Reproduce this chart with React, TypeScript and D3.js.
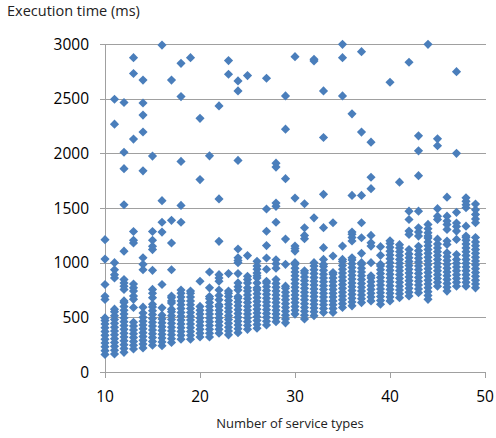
import React from "react";
import * as d3 from "d3";

const serviceTypes: number[] = [
  10, 11, 12, 13, 14, 15, 16, 17, 18, 19, 20, 21, 22, 23, 24, 25, 26, 27, 28, 29,
  30, 31, 32, 33, 34, 35, 36, 37, 38, 39, 40, 41, 42, 43, 44, 45, 46, 47, 48, 49,
];

// Execution times (ms) read for each number of service types
const executionTimes: number[][] = [
  [160, 195, 230, 265, 300, 335, 370, 405, 440, 470, 495, 663, 693, 800, 1033, 1210],
  [165, 200, 235, 270, 305, 340, 375, 410, 445, 480, 515, 550, 575, 860, 890, 935, 1000, 2267, 2495],
  [180, 215, 250, 285, 320, 355, 390, 425, 460, 495, 530, 565, 600, 635, 650, 755, 785, 815, 845, 1105, 1530, 1860, 2010, 2465],
  [210, 245, 280, 315, 350, 385, 420, 455, 590, 665, 695, 740, 770, 805, 1180, 1205, 1285, 2130, 2730, 2875],
  [220, 255, 290, 325, 360, 395, 430, 465, 500, 540, 593, 935, 985, 1045, 1840, 2195, 2350, 2460, 2670],
  [245, 280, 315, 350, 385, 420, 455, 490, 525, 560, 595, 620, 680, 720, 755, 930, 1120, 1150, 1205, 1285, 1975],
  [240, 275, 310, 345, 380, 415, 450, 485, 520, 587, 800, 1280, 1370, 1567, 2990],
  [270, 305, 340, 375, 410, 445, 480, 515, 550, 575, 632, 650, 680, 695, 935, 1180, 1387, 2670],
  [300, 335, 370, 405, 440, 475, 510, 545, 580, 615, 650, 685, 720, 750, 1370, 1524, 1926, 2519, 2823],
  [300, 335, 370, 405, 440, 475, 510, 545, 580, 615, 650, 685, 720, 740, 2875],
  [320, 355, 390, 425, 460, 495, 530, 565, 600, 830, 1760, 2320],
  [320, 355, 390, 425, 460, 495, 530, 565, 600, 635, 670, 690, 770, 915, 1977],
  [355, 390, 425, 460, 495, 530, 565, 600, 615, 660, 700, 750, 830, 860, 890, 1195, 1583, 2434],
  [340, 375, 410, 445, 480, 515, 550, 585, 620, 655, 690, 720, 740, 900, 2723, 2848],
  [360, 395, 430, 465, 500, 535, 570, 605, 640, 675, 690, 750, 780, 815, 900, 1000, 1020, 1045, 1125, 1935, 2571, 2662],
  [390, 425, 460, 495, 530, 565, 600, 635, 670, 705, 740, 770, 815, 845, 875, 1065, 2711],
  [400, 435, 470, 505, 540, 575, 610, 645, 680, 715, 750, 770, 815, 860, 880, 905, 940, 970, 1012],
  [430, 465, 500, 535, 570, 605, 640, 675, 710, 745, 780, 815, 830, 940, 1043, 1156, 1287, 1491, 2687],
  [460, 495, 530, 565, 600, 635, 670, 705, 740, 775, 810, 845, 950, 990, 1027, 1370, 1515, 1545, 1874, 1910],
  [450, 485, 520, 555, 590, 625, 660, 695, 730, 765, 785, 985, 1216, 1768, 2221, 2525],
  [530, 565, 600, 635, 670, 705, 740, 775, 810, 845, 880, 915, 950, 985, 1000, 1106, 1130, 1152, 1591, 2884],
  [485, 520, 555, 590, 625, 660, 695, 730, 765, 800, 835, 870, 905, 925, 1219, 1249, 1319, 1539],
  [515, 550, 585, 620, 655, 690, 725, 760, 795, 830, 865, 900, 935, 970, 1000, 1410, 2845, 2860],
  [545, 580, 615, 650, 685, 720, 755, 790, 825, 860, 895, 930, 965, 985, 1030, 1137, 1320, 1625, 2145, 2571],
  [545, 580, 615, 650, 685, 720, 755, 790, 825, 860, 895, 910, 1061, 1365],
  [590, 625, 660, 695, 730, 765, 800, 835, 870, 905, 940, 975, 1010, 1030, 1152, 2525, 2875, 2997],
  [605, 640, 675, 710, 745, 780, 815, 850, 885, 920, 955, 990, 1025, 1045, 1198, 1230, 1260, 1280, 1615, 2361],
  [635, 670, 705, 740, 775, 810, 845, 880, 915, 950, 985, 1000, 1085, 1228, 1365, 1615, 2194, 2930],
  [650, 685, 720, 755, 790, 825, 860, 880, 1000, 1152, 1182, 1249, 1677, 1781, 2102],
  [620, 655, 690, 725, 760, 795, 830, 865, 900, 935, 970, 985, 1067, 1146],
  [650, 685, 720, 755, 790, 825, 860, 895, 930, 965, 1000, 1035, 1070, 1105, 1140, 1175, 1200, 2650],
  [680, 715, 750, 785, 820, 855, 890, 925, 960, 995, 1030, 1065, 1100, 1135, 1165, 1736],
  [695, 730, 765, 800, 835, 870, 905, 940, 975, 1010, 1045, 1080, 1120, 1258, 1289, 1395, 1471, 2833],
  [725, 760, 795, 830, 865, 900, 935, 970, 1005, 1040, 1075, 1110, 1150, 1243, 1280, 1319, 1471, 1796, 2023, 2160],
  [665, 700, 735, 770, 805, 840, 875, 910, 945, 980, 1015, 1050, 1085, 1120, 1155, 1190, 1225, 1245, 1274, 1310, 1350, 2997],
  [785, 820, 855, 890, 925, 960, 995, 1030, 1065, 1100, 1135, 1170, 1215, 1395, 1425, 1494, 2069, 2133],
  [740, 775, 810, 845, 880, 915, 950, 985, 1020, 1055, 1090, 1167, 1198, 1304, 1348, 1380, 1425, 1599],
  [785, 820, 855, 890, 925, 960, 995, 1030, 1075, 1213, 1289, 1330, 1363, 1460, 2000, 2747],
  [785, 820, 855, 890, 925, 960, 995, 1030, 1065, 1100, 1135, 1170, 1205, 1230, 1243, 1334, 1502, 1530, 1561, 1593],
  [770, 805, 840, 875, 910, 945, 980, 1015, 1050, 1085, 1120, 1155, 1190, 1230, 1365, 1400, 1441, 1484, 1536],
];

const xTicks: number[] = [10, 20, 30, 40, 50];
const yTicks: number[] = [0, 500, 1000, 1500, 2000, 2500, 3000];
const xTitle = "Number of service types";
const yTitle = "Execution time (ms)";

const W = 496;
const H = 438;
const FONT = "'Open Sans', 'Noto Sans', sans-serif";

export default function App() {
  const x = d3.scaleLinear().domain([10, 50]).range([105, 485]);
  const y = d3.scaleLinear().domain([0, 3000]).range([372, 44]);
  const diamond = d3.symbol(d3.symbolSquare, 42)();
  const gridColor = "#a0a0a0";
  const points: { sx: number; t: number }[] = [];
  serviceTypes.forEach((s, i) => executionTimes[i].forEach((t) => points.push({ sx: s, t })));

  return (
    <svg
      width={W}
      height={H}
      style={{ position: "absolute", left: 0, top: 0, background: "#fff" }}
      fontFamily={FONT}
    >
      {yTicks.map((v) => (
        <line
          key={"g" + v}
          x1={100}
          x2={486}
          y1={Math.round(y(v)) + 0.5}
          y2={Math.round(y(v)) + 0.5}
          stroke={gridColor}
          strokeWidth={1}
        />
      ))}
      <line x1={105.5} x2={105.5} y1={44} y2={378} stroke={gridColor} strokeWidth={1} />
      {xTicks.map((v) => (
        <line
          key={"xt" + v}
          x1={Math.round(x(v)) + 0.5}
          x2={Math.round(x(v)) + 0.5}
          y1={372}
          y2={378}
          stroke={gridColor}
          strokeWidth={1}
        />
      ))}
      {yTicks.map((v) => (
        <text
          key={"yl" + v}
          x={89}
          y={y(v)}
          dy="0.36em"
          textAnchor="end"
          fontSize={15.5}
          fill="#000"
        >
          {v}
        </text>
      ))}
      {xTicks.map((v) => (
        <text key={"xl" + v} x={x(v)} y={402} textAnchor="middle" fontSize={15.5} fill="#000">
          {v}
        </text>
      ))}
      <text x={290} y={428} textAnchor="middle" fontSize={13} fill="#222">
        {xTitle}
      </text>
      <text x={7} y={16} fontSize={14.5} fill="#222">
        {yTitle}
      </text>
      <g fill="#4a7ebb">
        {points.map((p, i) => (
          <path
            key={i}
            d={diamond as string}
            transform={`translate(${x(p.sx)},${y(p.t)}) rotate(45)`}
          />
        ))}
      </g>
    </svg>
  );
}
